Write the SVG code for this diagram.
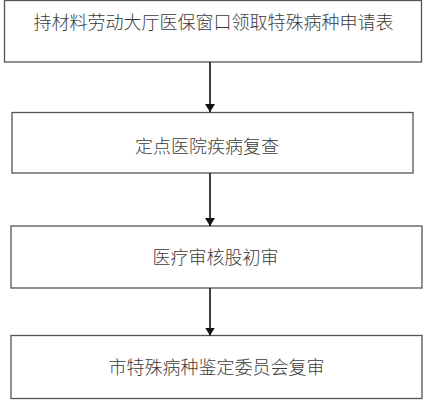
<svg xmlns="http://www.w3.org/2000/svg" width="424" height="400" viewBox="0 0 424 400">
<style>
.box{fill:#fff;stroke:#555;stroke-width:1.3}
.lbl{font-family:"Noto Sans CJK SC","Noto Sans CJK JP",sans-serif;font-size:18px;fill:#3a3a3a;text-anchor:middle;font-weight:300}
.conn{stroke:#111;stroke-width:1.6;fill:none;marker-end:url(#ah)}
</style>
<defs>
<marker id="ah" viewBox="0 0 8 10" refX="8" refY="5" markerWidth="8" markerHeight="10" markerUnits="userSpaceOnUse" orient="auto">
<path d="M0,0 L8,5 L0,10 Z" fill="#111"/>
</marker>
</defs>
<rect width="424" height="400" fill="#fff"/>
<g id="n1"><rect class="box" x="4.5" y="0.5" width="417" height="61.5"/><text class="lbl" x="213.5" y="28.5">持材料劳动大厅医保窗口领取特殊病种申请表</text></g>
<g id="n2"><rect class="box" x="12" y="112.5" width="401" height="60.5"/><text class="lbl" x="207" y="152.5">定点医院疾病复查</text></g>
<g id="n3"><rect class="box" x="11" y="226" width="411" height="62"/><text class="lbl" x="215.5" y="263.5">医疗审核股初审</text></g>
<g id="n4"><rect class="box" x="11" y="335.5" width="411" height="63"/><text class="lbl" x="216.5" y="373.5">市特殊病种鉴定委员会复审</text></g>
<g id="connectors">
<line class="conn" x1="210" y1="62" x2="210" y2="112"/>
<line class="conn" x1="210" y1="173" x2="210" y2="226"/>
<line class="conn" x1="210" y1="288" x2="210" y2="335.5"/>
</g>
</svg>
